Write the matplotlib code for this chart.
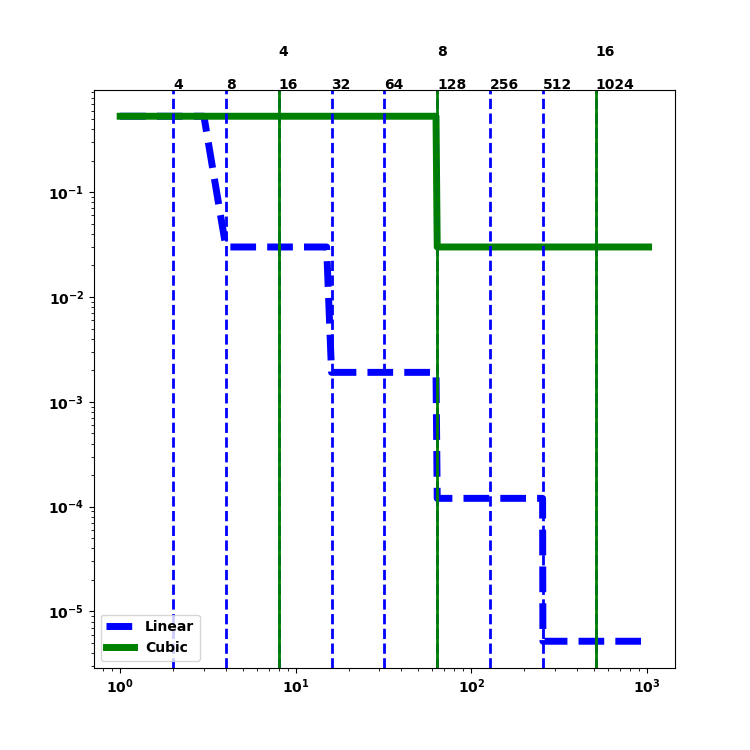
import matplotlib
matplotlib.use("Agg")
import matplotlib.pyplot as plt
import matplotlib.transforms as mtransforms

plt.rcParams['font.weight'] = 'bold'

# step curves (breakpoints)
lin_x = [1, 3, 4, 15, 16, 63, 64, 255, 256, 1024]
lin_y = [0.53, 0.53, 0.030, 0.030, 0.00191, 0.00191, 1.2e-4, 1.2e-4, 5.2e-6, 5.2e-6]
cub_x = [1, 63, 64, 1024]
cub_y = [0.53, 0.53, 0.030, 0.030]

# vertical marker lines and their labels
lin_marks = [2, 4, 8, 16, 32, 64, 128, 256, 512]
lin_labels = ['4', '8', '16', '32', '64', '128', '256', '512', '1024']
cub_marks = [8, 64, 512]
cub_labels = ['4', '8', '16']

fig, ax = plt.subplots(figsize=(7.5, 7.5), dpi=100)

ax.loglog(lin_x, lin_y, 'b--', lw=5, label='Linear')
ax.loglog(cub_x, cub_y, 'g-', lw=5, label='Cubic')

trans = mtransforms.blended_transform_factory(ax.transData, ax.transAxes)
for m, s in zip(lin_marks, lin_labels):
    ax.axvline(m, color='b', ls='--', lw=2)
    ax.text(m, 1.002, s, transform=trans, ha='left', va='baseline',
            fontsize=10, fontweight='bold')
for m, s in zip(cub_marks, cub_labels):
    ax.axvline(m, color='g', ls='-', lw=2)
    ax.text(m, 1.059, s, transform=trans, ha='left', va='baseline',
            fontsize=10, fontweight='bold')

ax.legend(loc='lower left', prop={'weight': 'bold'})

fig.savefig('out.png', dpi=100)
